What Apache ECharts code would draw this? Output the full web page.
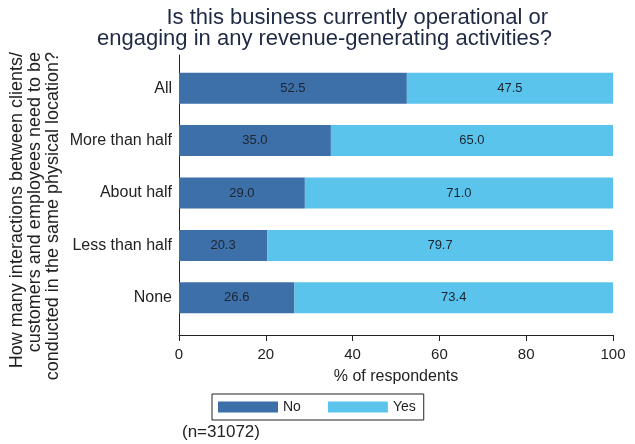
<!DOCTYPE html>
<html><head><meta charset="utf-8">
<script src="https://cdn.jsdelivr.net/npm/echarts@6/dist/echarts.min.js"></script>
<style>html,body{margin:0;padding:0;background:#fff}#c{width:635px;height:444px}</style>
</head><body><div id="c"></div>
<script>
const categories = ['All', 'More than half', 'About half', 'Less than half', 'None'];
const noValues = [52.5, 35.0, 29.0, 20.3, 26.6];
const yesValues = [47.5, 65.0, 71.0, 79.7, 73.4];
const seriesNames = ['No', 'Yes'];
const titleLines = ['Is this business currently operational or', 'engaging in any revenue-generating activities?'];
const yTitle = 'How many interactions between clients/\ncustomers and employees need to be\nconducted in the same physical location?';
const xTitle = '% of respondents';
const noteText = '(n=31072)';

const FONT = '"Liberation Sans", Arial, sans-serif';
const chart = echarts.init(document.getElementById('c'), null, {renderer: 'canvas'});
const labelOpt = {show: true, position: 'inside', color: '#1c2530', fontSize: 13, fontFamily: FONT,
  formatter: p => p.value.toFixed(1)};
const titleStyle = {fontSize: 22, fontWeight: 'normal', color: '#1e2a44', fontFamily: FONT};
chart.setOption({
  animation: false,
  backgroundColor: '#fff',
  title: [
    {text: titleLines[0], left: 548, textAlign: 'right', top: 7, padding: 0, textStyle: titleStyle},
    {text: titleLines[1], left: 552, textAlign: 'right', top: 28, padding: 0, textStyle: titleStyle}
  ],
  grid: [
    {left: 179, right: 22, top: 62, height: 262, outerBoundsMode: 'none', containLabel: false},
    {left: 179, right: 22, top: 55, bottom: 109, outerBoundsMode: 'none', containLabel: false}
  ],
  xAxis: [
    {gridIndex: 0, type: 'value', min: 0, max: 100, show: false},
    {gridIndex: 1, type: 'value', min: 0, max: 100, interval: 20,
      axisLine: {show: true, lineStyle: {color: '#222', width: 1}},
      axisTick: {show: true, length: 6, lineStyle: {color: '#222'}},
      axisLabel: {fontSize: 15, color: '#222', fontFamily: FONT, margin: 12},
      splitLine: {show: false},
      name: xTitle, nameLocation: 'middle', nameGap: 34,
      nameTextStyle: {fontSize: 16, color: '#222', fontFamily: FONT}}
  ],
  yAxis: [
    {gridIndex: 0, type: 'category', data: categories, inverse: true,
      axisLine: {show: false}, axisTick: {show: false},
      axisLabel: {fontSize: 16, color: '#222', fontFamily: FONT, margin: 7}},
    {gridIndex: 1, type: 'value', min: 0, max: 1,
      axisLine: {show: true, lineStyle: {color: '#222', width: 1}},
      axisTick: {show: false}, axisLabel: {show: false}, splitLine: {show: false}}
  ],
  legend: {data: seriesNames, left: 212, top: 394, orient: 'horizontal', icon: 'rect',
    itemWidth: 60, itemHeight: 11, itemGap: 27, padding: [6, 8, 6, 6],
    borderColor: '#222', borderWidth: 1, borderRadius: 0,
    textStyle: {fontSize: 14, color: '#222', fontFamily: FONT}},
  graphic: [
    {type: 'text', left: 182, top: 424,
      style: {text: noteText, fontSize: 17, fill: '#222', fontFamily: FONT}},
    {type: 'text', x: 8, y: 52, rotation: Math.PI / 2,
      style: {text: yTitle, fontSize: 18, lineHeight: 18, fill: '#222', fontFamily: FONT,
        align: 'right', verticalAlign: 'top'}}
  ],
  series: [
    {name: 'No', type: 'bar', stack: 'a', xAxisIndex: 0, yAxisIndex: 0, data: noValues,
      barWidth: 31, itemStyle: {color: '#3d6fa8'}, label: labelOpt},
    {name: 'Yes', type: 'bar', stack: 'a', xAxisIndex: 0, yAxisIndex: 0, data: yesValues,
      barWidth: 31, itemStyle: {color: '#5ac4ec'}, label: labelOpt}
  ]
});
</script></body></html>
